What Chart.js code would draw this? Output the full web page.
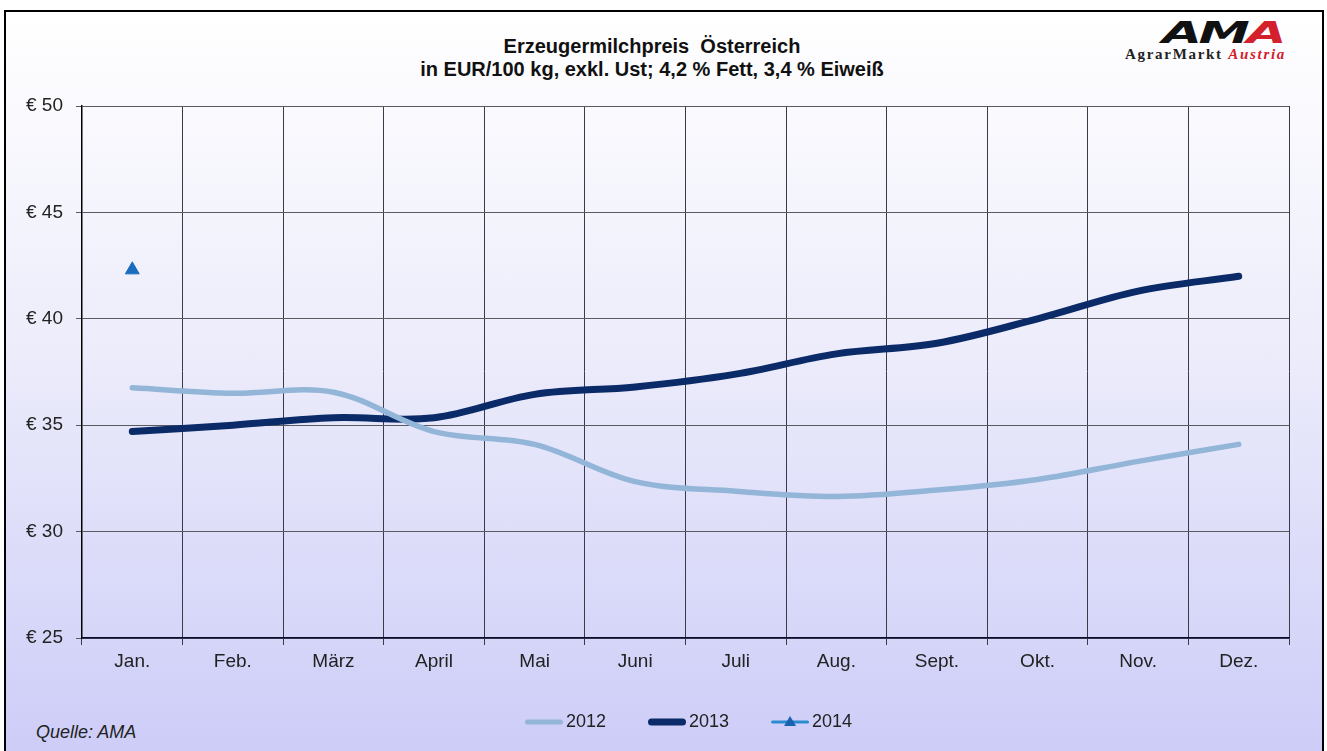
<!DOCTYPE html>
<html>
<head>
<meta charset="utf-8">
<script src="https://cdn.jsdelivr.net/npm/chart.js@4.4.1/dist/chart.umd.min.js"></script>
<style>
  html, body { margin: 0; padding: 0; background: #fff; }
  body { width: 1327px; height: 751px; overflow: hidden; position: relative; font-family: "Liberation Sans", Arial, sans-serif; }
  #frame { position: absolute; left: 4px; top: 10px; width: 1316px; height: 760px; border: 2px solid #000;
           background: linear-gradient(to bottom, #ffffff 0%, #ececfb 45%, #cbcbf8 100%); }
  #title { position: absolute; left: 352px; top: 35px; width: 600px; text-align: center;
           font-weight: bold; font-size: 20px; line-height: 23px; color: #111; }
  #logo { position: absolute; left: 1122px; top: 18px; width: 170px; height: 46px; }
  #logo .ama { position: absolute; left: 40px; top: 0; font-family: "DejaVu Sans", sans-serif; font-weight: bold;
               font-style: italic; font-size: 30px; line-height: 30px; transform: scaleX(1.72); transform-origin: left top;
               letter-spacing: -2px; color: #111; }
  #logo .ama span { color: #d3202c; }
  #logo .sub { position: absolute; left: 3px; top: 28px; font-family: "Liberation Serif", serif; font-weight: bold;
               font-size: 15px; letter-spacing: 1.7px; color: #222; white-space: nowrap; }
  #logo .sub i { color: #d3202c; }
  #source { position: absolute; left: 36px; top: 722px; font-style: italic; font-size: 18px; color: #222; }
  #chart { position: absolute; left: 0; top: 0; }
</style>
</head>
<body>
<div id="frame"></div>
<div id="title">Erzeugermilchpreis&nbsp; Österreich<br>in EUR/100 kg, exkl. Ust; 4,2 % Fett, 3,4 % Eiweiß</div>
<div id="logo">
  <div class="ama">AM<span>A</span></div>
  <div class="sub">AgrarMarkt <i>Austria</i></div>
</div>
<div id="source">Quelle: AMA</div>
<canvas id="chart" width="1327" height="751"></canvas>

<script>
const FONT = '"Liberation Sans", Arial, sans-serif';

/* ========= DATA ========= */
const months = ["Jan.", "Feb.", "März", "April", "Mai", "Juni", "Juli", "Aug.", "Sept.", "Okt.", "Nov.", "Dez."];
const seriesNames = ["2012", "2013", "2014"];
const price2012 = [36.76, 36.5, 36.55, 34.7, 34.1, 32.35, 31.9, 31.65, 31.95, 32.45, 33.3, 34.1];
const price2013 = [34.7, 35.0, 35.35, 35.35, 36.45, 36.8, 37.4, 38.35, 38.85, 40.0, 41.3, 42.0];
const price2014 = [42.3];
const yMin = 25, yMax = 50, yStep = 5;

/* ========= LEGEND ICONS ========= */
function legendIcon(color, width, marker) {
  const c = document.createElement("canvas");
  c.width = 76;
  c.height = 18;
  const g = c.getContext("2d");
  g.strokeStyle = color;
  g.lineWidth = width;
  g.lineCap = "round";
  g.beginPath();
  g.moveTo(38 + width / 2, 9);
  g.lineTo(76 - width / 2, 9);
  g.stroke();
  if (marker) {
    g.fillStyle = marker;
    g.beginPath();
    g.moveTo(57, 3);
    g.lineTo(63, 13);
    g.lineTo(51, 13);
    g.closePath();
    g.fill();
  }
  return c;
}

const icons = [
  legendIcon("#93b6d8", 5, null),
  legendIcon("#0b2a68", 7, null),
  legendIcon("#2c8bd0", 3, "#1a62b0")
];

// legend sits a bit right of the canvas centre in the original
const legendShift = {
  id: "legendShift",
  afterLayout(chart) {
    chart.legend.left += 23;
    chart.legend.right += 23;
  }
};

/* ========= CHART ========= */
new Chart(document.getElementById("chart"), {
  type: "line",
  data: {
    labels: months,
    datasets: [
      {
        label: seriesNames[0],
        data: price2012,
        borderColor: "#93b6d8",
        borderWidth: 5.5,
        borderCapStyle: "round",
        tension: 0.35,
        pointRadius: 0
      },
      {
        label: seriesNames[1],
        data: price2013,
        borderColor: "#0b2a68",
        borderWidth: 7,
        borderCapStyle: "round",
        tension: 0.35,
        pointRadius: 0
      },
      {
        label: seriesNames[2],
        data: price2014,
        showLine: false,
        pointStyle: "triangle",
        pointRadius: 8,
        backgroundColor: "#1a6cbc",
        borderColor: "#1a6cbc",
        borderWidth: 1
      }
    ]
  },
  plugins: [legendShift],
  options: {
    responsive: false,
    animation: false,
    devicePixelRatio: 1,
    layout: { padding: { left: 10, right: 38, top: 106, bottom: 10 } },
    plugins: {
      title: { display: false },
      tooltip: { enabled: false },
      legend: {
        position: "bottom",
        labels: {
          usePointStyle: true,
          pointStyleWidth: 64,
          boxHeight: 18,
          padding: 10,
          color: "#222",
          font: { family: FONT, size: 18 },
          generateLabels: chart => chart.data.datasets.map((ds, i) => ({
            text: ds.label,
            pointStyle: icons[i],
            fillStyle: "transparent",
            strokeStyle: "transparent",
            lineWidth: 0,
            fontColor: "#222",
            hidden: false,
            datasetIndex: i
          }))
        }
      }
    },
    scales: {
      x: {
        offset: true,
        grid: { offset: true, color: "#3a3a48", lineWidth: 1, tickLength: 7, tickColor: "#3a3a48" },
        border: { color: "#0a0a30", width: 1.5 },
        ticks: { color: "#222", padding: 5, font: { family: FONT, size: 19 }, maxRotation: 0, autoSkip: false },
        afterFit: scale => { scale.height = 65; }
      },
      y: {
        min: yMin,
        max: yMax,
        grid: { color: "#5a5a60", lineWidth: 1, tickLength: 6, tickColor: "#5a5a60" },
        border: { color: "#000", width: 1.5 },
        ticks: {
          stepSize: yStep,
          color: "#222",
          padding: 13,
          font: { family: FONT, size: 19 },
          callback: v => "€ " + v
        },
        afterFit: scale => { scale.width = 72; }
      }
    }
  }
});
</script>
</body>
</html>
